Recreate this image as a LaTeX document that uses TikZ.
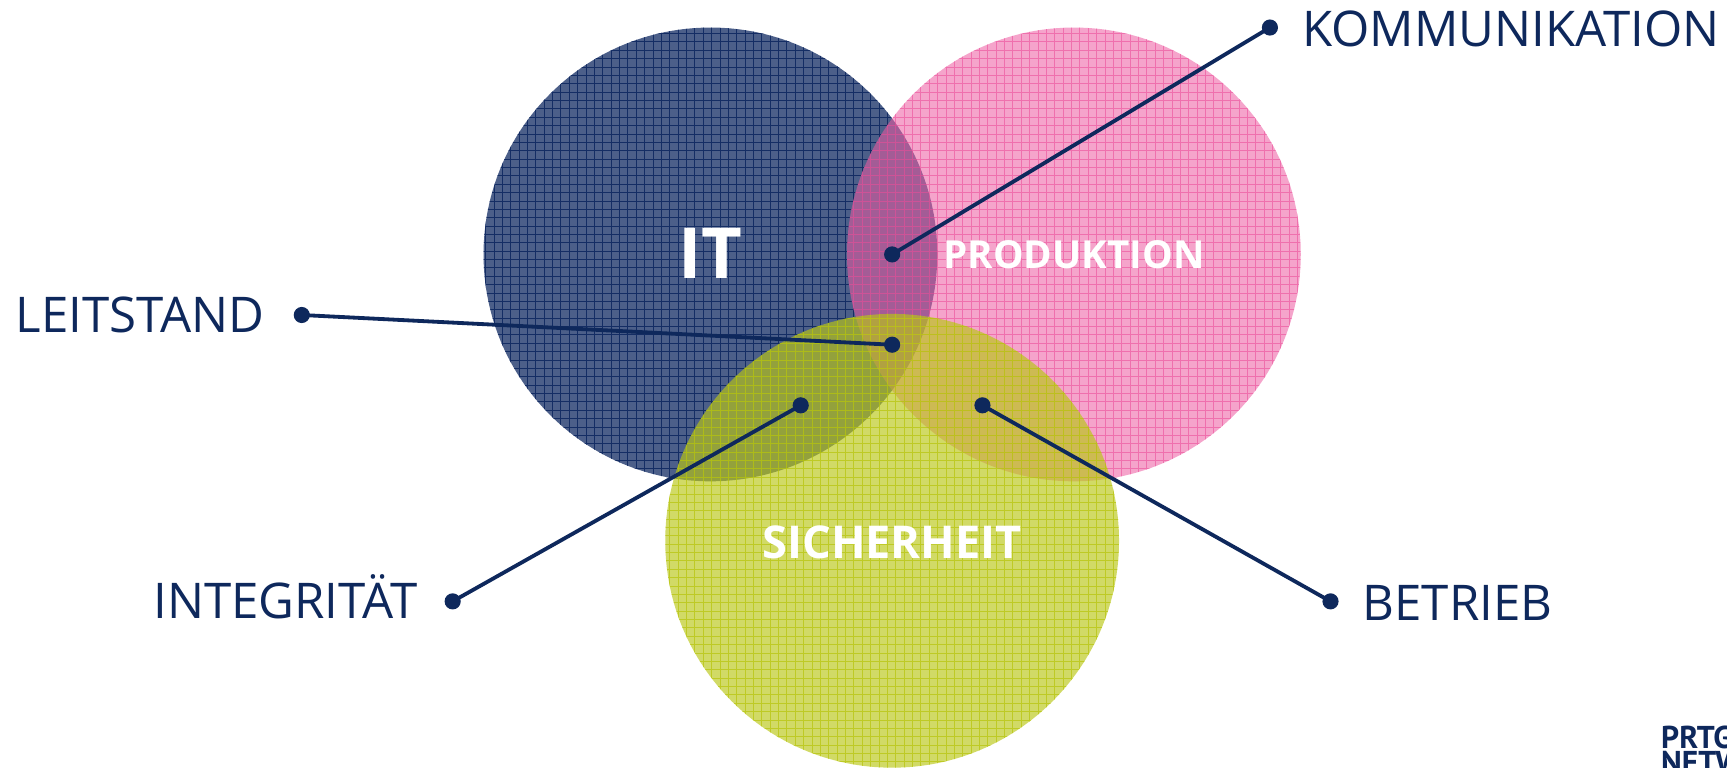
\documentclass[tikz,border=0pt]{standalone}
\usepackage{xcolor}
\usepackage{fontspec}
\setmainfont{Open Sans}
\newfontfamily\logofont{PT Sans}
\definecolor{darknavy}{RGB}{14,40,92}
\definecolor{itblue}{RGB}{20,45,100}
\definecolor{prodpink}{RGB}{236,90,160}
\definecolor{sichgreen}{RGB}{185,198,20}
\tikzset{
    venncircle/.style={circle,minimum size=309pt,inner sep=0pt},
    meshlines/.style={line width=0.5pt,step=5.7pt},
    enddot/.style={circle,fill=darknavy,inner sep=0pt,minimum size=11pt},
    outerlabel/.style={anchor=base west,inner sep=0.75pt,text=darknavy,font=\fontsize{33.5}{33.5}\selectfont},
    innerlabel/.style={anchor=base,inner sep=0.75pt,text=white,font=\fontsize{26.3}{26.3}\selectfont\bfseries},
    leader/.style={draw=darknavy,line width=2.6pt}
}
\begin{document}
\begin{tikzpicture}[x=0.75pt,y=0.75pt,yscale=-1,xscale=1]

    \useasboundingbox (0,0) rectangle (1568,696.4);

    % circles, each with its mesh
    \node [venncircle,fill=itblue,fill opacity=0.76] (it) at (645,231) {};
    \begin{scope}
        \clip (645,231) circle (206);
        \draw [meshlines,draw=itblue] (430,20) grid (860,440);
    \end{scope}
    \node [venncircle,fill=prodpink,fill opacity=0.55] (prod) at (975,231) {};
    \begin{scope}
        \clip (975,231) circle (206);
        \draw [meshlines,draw=prodpink,draw opacity=0.7] (760,20) grid (1190,440);
    \end{scope}
    \node [venncircle,fill=sichgreen,fill opacity=0.65] (sich) at (810,491) {};
    \begin{scope}
        \clip (810,491) circle (206);
        \draw [meshlines,draw=sichgreen,draw opacity=0.8] (600,280) grid (1020,700);
    \end{scope}

    \node [innerlabel,font=\fontsize{48}{48}\selectfont\bfseries] (itlabel) at (645,253) {IT};
    \node [innerlabel] (prodlabel) at (975,244) {PRODUKTION};
    \node [innerlabel,font=\fontsize{30.8}{30.8}\selectfont\bfseries] (sichlabel) at (810,507) {SICHERHEIT};

    \node [enddot] (komin) at (810,231) {};
    \node [enddot] (komout) at (1153,25) {};
    \node [enddot] (leitin) at (810,313) {};
    \node [enddot] (leitout) at (274,286) {};
    \node [enddot] (intin) at (727,368) {};
    \node [enddot] (intout) at (411,546) {};
    \node [enddot] (betin) at (892,368) {};
    \node [enddot] (betout) at (1208,546) {};

    \draw [leader] (komin.center) -- (komout.center);
    \draw [leader] (leitin.center) -- (leitout.center);
    \draw [leader] (intin.center) -- (intout.center);
    \draw [leader] (betin.center) -- (betout.center);

    \node [outerlabel] (komlabel) at (1181,42) {KOMMUNIKATION};
    \node [outerlabel] (leitlabel) at (13,302) {LEITSTAND};
    \node [outerlabel] (intlabel) at (138,562) {INTEGRITÄT};
    \node [outerlabel] (betlabel) at (1236,563) {BETRIEB};

    \node [anchor=north west,inner sep=0pt,text=darknavy,align=left,font=\logofont\fontsize{21.5}{17}\selectfont\bfseries] (logo) at (1508,659) {PRTG\\NETW};
\end{tikzpicture}
\end{document}
